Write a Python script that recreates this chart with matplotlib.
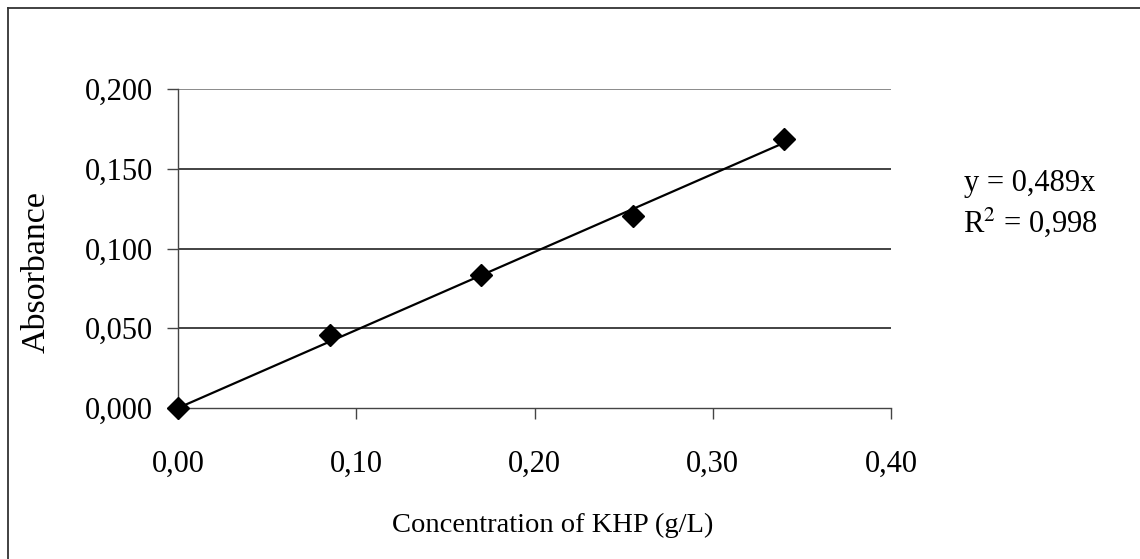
import matplotlib
matplotlib.use('Agg')
from matplotlib import pyplot as plt
from matplotlib.lines import Line2D
from matplotlib.ticker import FuncFormatter

# dados
concentracao = [0.0, 0.085, 0.17, 0.255, 0.34]
absorbancia = [0.0, 0.046, 0.0834, 0.1205, 0.1685]
inclinacao = 0.489
r2 = 0.998
xticks = [0.0, 0.1, 0.2, 0.3, 0.4]
yticks = [0.0, 0.05, 0.1, 0.15, 0.2]

plt.rcParams['font.family'] = ['Liberation Serif', 'DejaVu Serif']
FONTE = 22

fig = plt.figure(figsize=(11.4, 5.59), dpi=100)
ax = fig.add_axes([178 / 1140, 151 / 559, 713 / 1140, 319 / 559])

ax.set_xlim(0, 0.4)
ax.set_ylim(0, 0.2)
ax.set_xticks(xticks)
ax.set_yticks(yticks)
ax.xaxis.set_major_formatter(FuncFormatter(lambda v, p: f'{v:.2f}'.replace('.', ',')))
ax.yaxis.set_major_formatter(FuncFormatter(lambda v, p: f'{v:.3f}'.replace('.', ',')))
ax.tick_params(axis='both', direction='out', length=8, width=1, color='#444444',
               labelsize=FONTE)
ax.tick_params(axis='x', pad=22)
ax.tick_params(axis='y', pad=10)

for lado in ['top', 'right']:
  ax.spines[lado].set_visible(False)
for lado in ['left', 'bottom']:
  ax.spines[lado].set_color('#444444')
  ax.spines[lado].set_linewidth(1)

for v in yticks[1:]:
  ax.axhline(v, color='#222222' if v < 0.2 else '#777777', linewidth=1.2, zorder=0)

xs = [0, max(concentracao)]
ax.plot(xs, [inclinacao * x for x in xs], color='black', linewidth=1.6, zorder=2)
ax.plot(concentracao, absorbancia, linestyle='none', marker='D', markersize=11,
        color='black', zorder=3, clip_on=False)

ax.set_xlabel('Concentration of KHP (g/L)', fontsize=20.5, va='center')
ax.xaxis.set_label_coords(0.526, -0.367)
ax.set_ylabel('Absorbance', fontsize=24.5, va='center')
ax.yaxis.set_label_coords(-0.198, 0.426)

fig.text(1030 / 1140, 1 - 183 / 559, f'y = {inclinacao:.3f}x'.replace('.', ','),
         fontsize=FONTE, ha='center', va='center')
fig.text(1030 / 1140, 1 - 222 / 559, f'R$^{{2}}$ = {r2:.3f}'.replace('.', ','),
         fontsize=FONTE, ha='center', va='center', math_fontfamily='stix')

# borda da area do grafico (so esquerda e topo visiveis)
fig.add_artist(Line2D([8 / 1140, 8 / 1140], [0, 1 - 8 / 559], color='#333333', linewidth=1.3))
fig.add_artist(Line2D([8 / 1140, 1], [1 - 8 / 559, 1 - 8 / 559], color='#333333', linewidth=1.3))

fig.savefig('out.png', dpi=100)
